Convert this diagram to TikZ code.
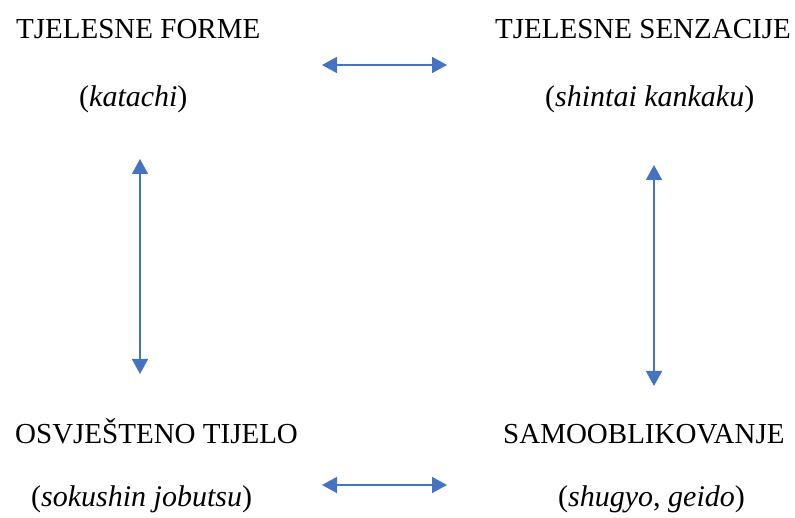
\documentclass[tikz,border=0pt]{standalone}
\usepackage{fontspec}
\setmainfont{Liberation Serif}
\usetikzlibrary{arrows.meta}
\definecolor{arrblue}{HTML}{4472C4}
\begin{document}
\begin{tikzpicture}[x=1pt,y=-1pt,
  lbl/.style={inner sep=0pt,anchor=base west,font=\fontsize{29}{35}\selectfont},
  sub/.style={inner sep=0pt,anchor=base west,font=\fontsize{30}{36}\selectfont},
  dbl/.style={draw=arrblue,line width=1.6pt,{Triangle[length=15pt,width=16pt]}-{Triangle[length=15pt,width=16pt]},arrblue}]
\useasboundingbox (0,0) rectangle (795,518);
\node[lbl] (tf) at (16,39) {TJELESNE FORME};
\node[sub] (tfk) at (79,107) {(\textit{katachi})};
\node[lbl] (ts) at (495,39) {TJELESNE SENZACIJE};
\node[sub] (tsk) at (545,107) {(\textit{shintai kankaku})};
\node[lbl] (ot) at (15,443) {OSVJEŠTENO TIJELO};
\node[sub] (otk) at (31,506) {(\textit{sokushin jobutsu})};
\node[lbl] (sa) at (503,443) {SAMOOBLIKOVANJE};
\node[sub] (sak) at (558,506) {(\textit{shugyo}, \textit{geido})};
\coordinate (h1a) at (322,65);
\coordinate (h1b) at (447,65);
\coordinate (h2a) at (322,485);
\coordinate (h2b) at (447,485);
\coordinate (v1a) at (140,159);
\coordinate (v1b) at (140,374);
\coordinate (v2a) at (654,165);
\coordinate (v2b) at (654,386);
\draw[dbl] (h1a) -- (h1b);
\draw[dbl] (h2a) -- (h2b);
\draw[dbl] (v1a) -- (v1b);
\draw[dbl] (v2a) -- (v2b);
\end{tikzpicture}
\end{document}
